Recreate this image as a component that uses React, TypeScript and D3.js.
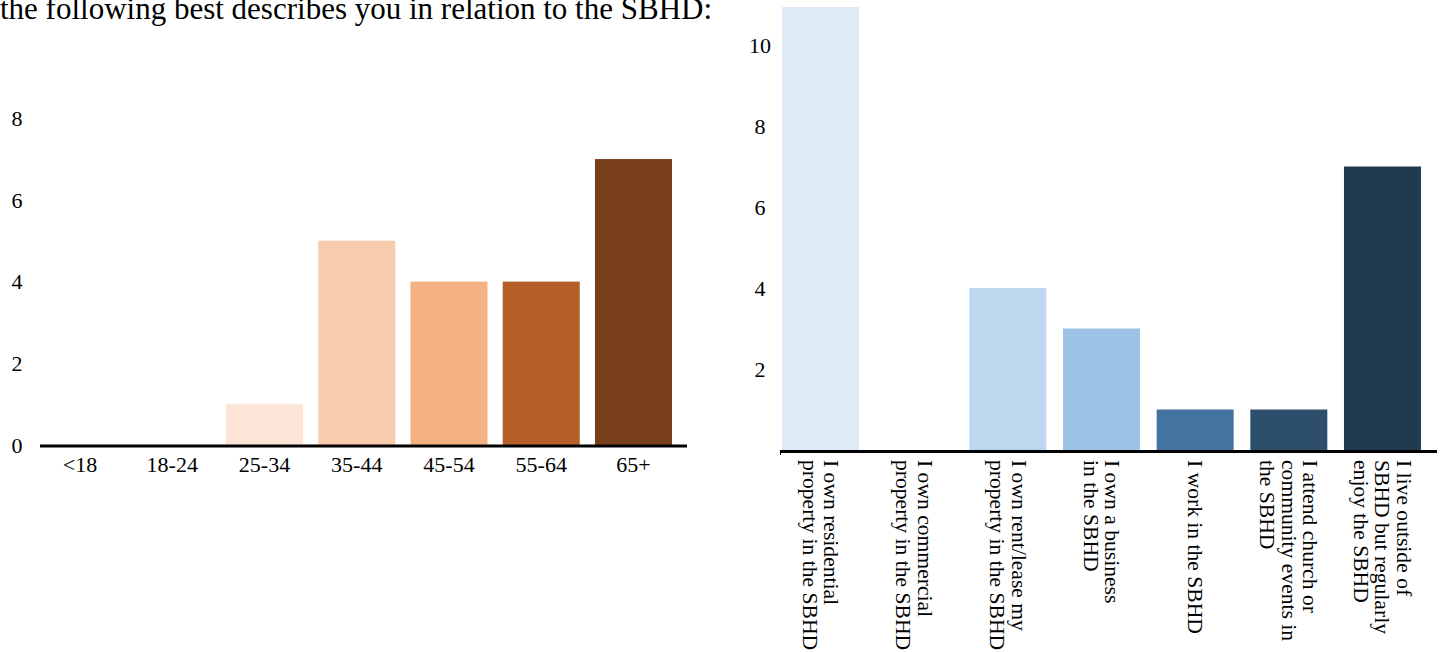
import React from "react";
import * as d3 from "d3";

const W = 1443;
const H = 652;
const FONT = "'Liberation Serif', 'Times New Roman', serif";

const titleText = "the following best describes you in relation to the SBHD:";

// left chart: age groups
const ageGroups = ["<18", "18-24", "25-34", "35-44", "45-54", "55-64", "65+"];
const ageCounts = [0, 0, 1, 5, 4, 4, 7];
const ageColors = ["#fce4d6", "#fce4d6", "#fce4d6", "#f8cbad", "#f4b183", "#b45f27", "#783e1a"];
const ageTicks = [0, 2, 4, 6, 8];

// right chart: relation to the SBHD
const relationLabels = [
  ["I own residential", "property in the SBHD"],
  ["I own commercial", "property in the SBHD"],
  ["I own rent/lease my", "property in the SBHD"],
  ["I own a business", "in the SBHD"],
  ["I work in the SBHD"],
  ["I attend church or", "community events in", "the SBHD"],
  ["I live outside of", "SBHD but regularly", "enjoy the SBHD"],
];
const relationCounts = [11, 0, 4, 3, 1, 1, 7];
const relationColors = ["#deebf7", "#deebf7", "#bdd7ee", "#9dc3e6", "#44739f", "#2d4f6b", "#213a4f"];
const relationTicks = [2, 4, 6, 8, 10];

function AgeChart() {
  const x = d3.scaleBand<string>()
    .domain(ageGroups)
    .range([33.9, 679.6])
    .paddingInner(0.165)
    .paddingOuter(0.0825);
  const y = d3.scaleLinear().domain([0, 8]).range([445, 118.2]);

  return (
    <g>
      {ageGroups.map((g, i) => ageCounts[i] > 0 && (
        <rect key={g} x={x(g)} y={y(ageCounts[i])} width={x.bandwidth()}
          height={y(0) - y(ageCounts[i])} fill={ageColors[i]} />
      ))}
      <line x1={40} x2={687} y1={y(0) + 1} y2={y(0) + 1} stroke="#000" strokeWidth={3} />
      {ageTicks.map(t => (
        <text key={t} x={17} y={y(t)} dy="0.35em" textAnchor="middle" fontSize={22}>{t}</text>
      ))}
      {ageGroups.map(g => (
        <text key={g} x={(x(g) ?? 0) + x.bandwidth() / 2} y={472} textAnchor="middle" fontSize={22}>{g}</text>
      ))}
    </g>
  );
}

function RelationChart() {
  const idx = relationLabels.map((_, i) => String(i));
  const x = d3.scaleBand<string>()
    .domain(idx)
    .range([773.7, 1429.3])
    .paddingInner(0.178)
    .paddingOuter(0.089);
  const y = d3.scaleLinear().domain([0, 10]).range([450, 45]);
  const lh = 21.6;

  return (
    <g>
      <defs>
        <clipPath id="rel-clip">
          <rect x={770} y={7} width={680} height={450} />
        </clipPath>
      </defs>
      <g clipPath="url(#rel-clip)">
        {idx.map((k, i) => relationCounts[i] > 0 && (
          <rect key={k} x={x(k)} y={y(relationCounts[i])} width={x.bandwidth()}
            height={y(0) - y(relationCounts[i])} fill={relationColors[i]} />
        ))}
      </g>
      <line x1={780} x2={1437} y1={y(0) + 1.5} y2={y(0) + 1.5} stroke="#000" strokeWidth={3} />
      <line x1={780.5} x2={780.5} y1={y(0)} y2={y(0) + 5} stroke="#000" strokeWidth={1} />
      {relationTicks.map(t => (
        <text key={t} x={760} y={y(t)} dy="0.35em" textAnchor="middle" fontSize={22}>{t}</text>
      ))}
      {idx.map((k, i) => {
        const cx = (x(k) ?? 0) + x.bandwidth() / 2;
        const lines = relationLabels[i];
        return (
          <text key={k} transform={`translate(${cx},460) rotate(90)`} fontSize={21.6}>
            {lines.map((ln, j) => (
              <tspan key={j} x={0} y={(j - (lines.length - 1) / 2) * lh} dominantBaseline="central">{ln}</tspan>
            ))}
          </text>
        );
      })}
    </g>
  );
}

export default function App() {
  return (
    <svg width={W} height={H} fontFamily={FONT}
      style={{ position: "absolute", left: 0, top: 0, background: "#fff" }}>
      <text x={0} y={19} fontSize={31}>{titleText}</text>
      <AgeChart />
      <RelationChart />
    </svg>
  );
}
